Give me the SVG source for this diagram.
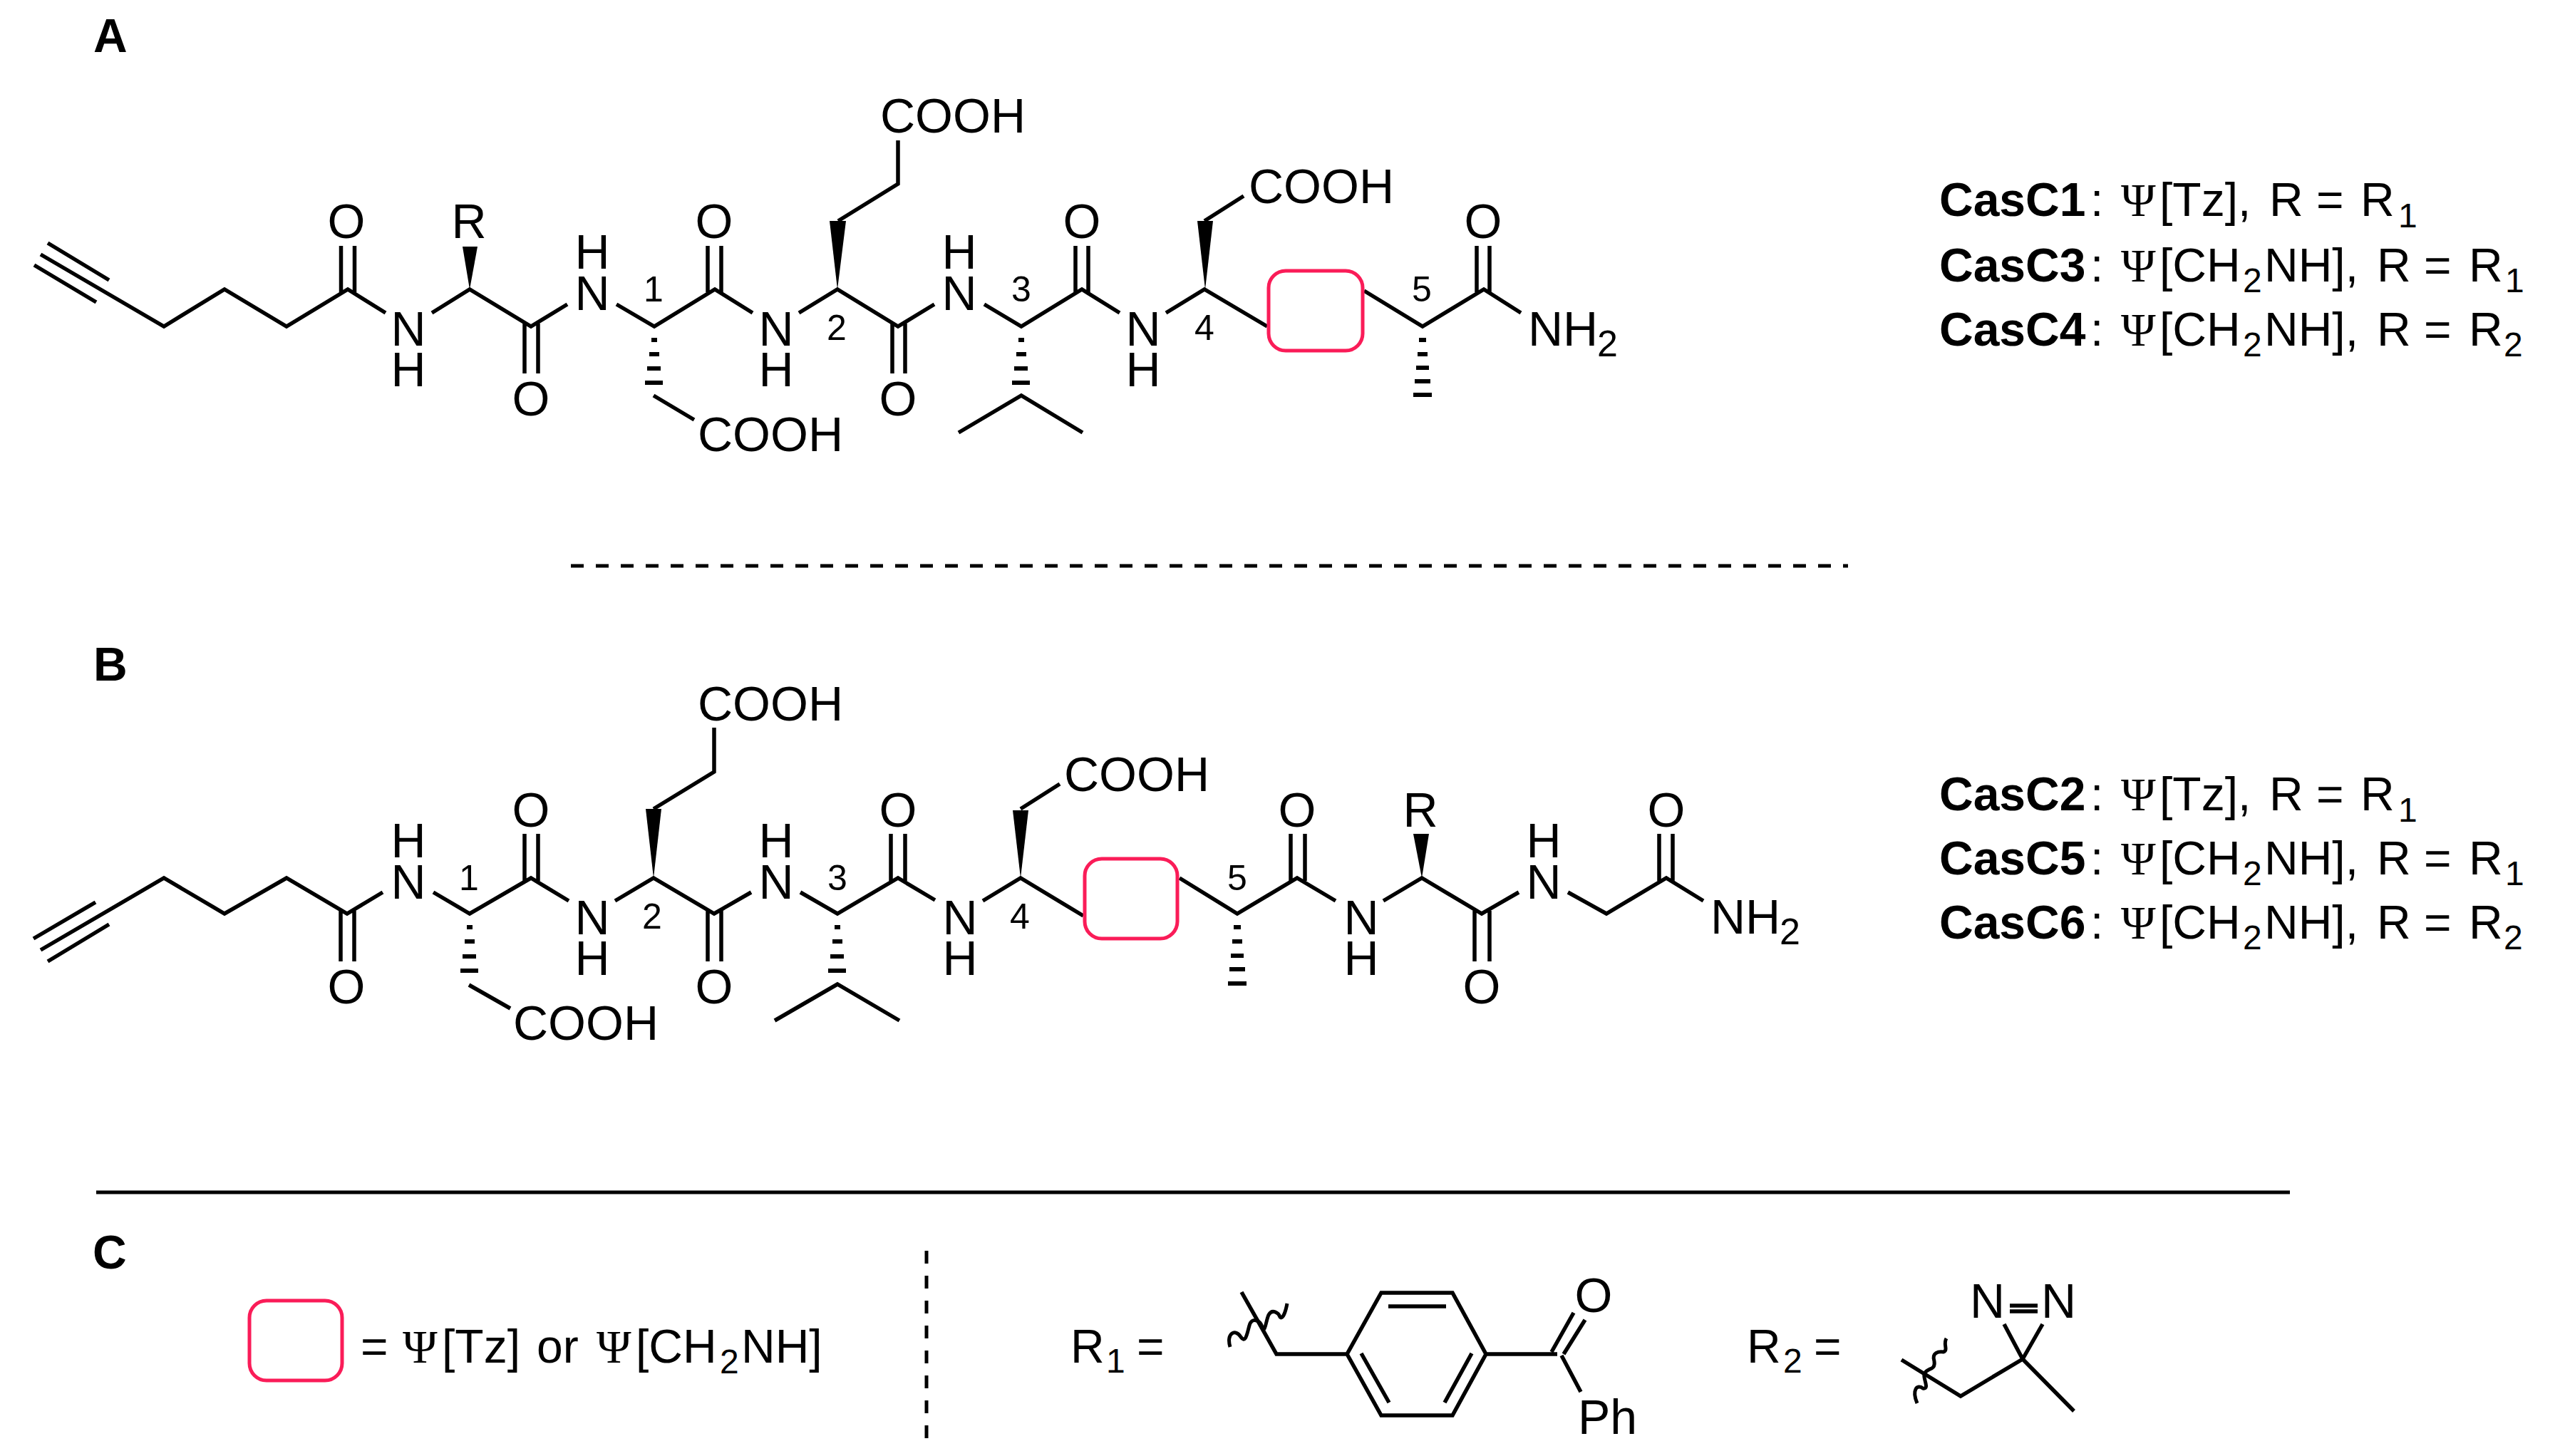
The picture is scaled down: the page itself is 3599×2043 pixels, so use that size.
<svg xmlns="http://www.w3.org/2000/svg" width="3599" height="2043" viewBox="0 0 3599 2043">
<style>
text{font-family:"Liberation Sans",Arial,sans-serif;fill:#000}
.a{font-size:68px;text-anchor:middle}
.s{font-size:68px}
.n{font-size:50px;text-anchor:middle}
.u{font-size:52px}
.p{font-size:66px;font-weight:bold}
.l{font-size:66px}
.bd{font-weight:bold}
.sub{font-size:48px}
.psi{font-family:"Liberation Serif","Times New Roman",serif}
.b{fill:none;stroke:#000;stroke-width:5.500}
.h{fill:none;stroke:#000;stroke-width:6}
.d{fill:none;stroke:#000;stroke-width:5}
.box{fill:none;stroke:#FA1C58;stroke-width:5}
</style>
<rect width="3599" height="2043" fill="#fff"/>
<g id="panel-labels">
<text class="p" x="131" y="73">A</text>
<text class="p" x="131" y="955">B</text>
<text class="p" x="130" y="1780">C</text>
</g>
<g id="dividers">
<path class="d" stroke-dasharray="18 17" d="M801 794H2593"/>
<path class="d" d="M135 1673H3213"/>
<path class="d" stroke-dasharray="18 17" d="M1300 1755V2020"/>
</g>
<g id="connectors">
<g id="bonds-a">
<path class="b" d="M67 341L153 393M48 372L135 424M57 357L230 458L315 406L402 458L488 406L541 439M478.500 345V410M497.500 345V410M606 439L659 406L745 458L796 427M736 454V524M755 454V524M865 427L918 458L1003 406L1056 439M993 345V410M1012 345V410M1121 439L1175 406L1260 458L1311 427M1252 454V524M1270 454V524M1381 427L1433 458L1518 406L1571 439M1509 345V410M1527 345V410M1636 439L1690 406L1778 458M1914 408L1996 458L2082 406L2134 439M2072 345V410M2090 345V410M1176 310L1260 258V197M1690 310L1745 275M917 555L974 589M1345 607L1433 555L1519 607"/>
<path d="M659 406L649 346H670Z"/>
<path d="M1175 406L1164 310H1187Z"/>
<path d="M1691 406L1680 310H1702Z"/>
<path class="h" d="M914 477h8M911 497h14M908 517h19M905 537h25M1429 477h8M1426 497h14M1423 517h19M1420 537h25M1991 477h10M1989 497h14M1987 516h18M1985 535h22M1983 554h26"/>
</g>
<g id="bonds-b">
<path class="b" d="M47 1317L134 1266M67 1349L153 1297M57 1333L230 1232L315 1282L402 1232L487 1282L537 1252M478 1278V1349M497 1278V1349M608 1252L659 1282L745 1232L798 1264M736 1170V1236M755 1170V1236M863 1264L917 1232L1002 1282L1054 1252M993 1278V1349M1012 1278V1349M1123 1252L1175 1282L1260 1232L1312 1263M1250 1170V1236M1270 1170V1236M1379 1264L1432 1232L1520 1285M1655 1232L1736 1282L1820 1232L1874 1264M1811 1170V1236M1831 1170V1236M1941 1264L1995 1232L2079 1282L2131 1252M2069 1278V1349M2090 1278V1349M2200 1252L2254 1282L2338 1232L2390 1264M2328 1170V1236M2347 1170V1236M917 1135L1002 1083V1021M1432 1135L1487 1100M658 1382L716 1415M1087 1432L1175 1381L1262 1432"/>
<path d="M917 1232L906 1135H928Z"/>
<path d="M1432 1232L1421 1137H1443Z"/>
<path d="M1995 1232L1983 1170H2005Z"/>
<path class="h" d="M655 1301h8M652 1321h14M649 1342h19M646 1362h25M1171 1301h8M1168 1321h14M1165 1342h19M1162 1362h25M1731 1301h10M1729 1321h14M1727 1341h18M1725 1360h22M1723 1380h26"/>
</g>
</g>
<g id="box-a"><rect class="box" x="1780" y="380" width="132" height="112" rx="24"/></g>
<g id="box-b"><rect class="box" x="1522" y="1205" width="130" height="112" rx="24"/></g>
<g id="labels-a">
<text class="a" x="486" y="334">O</text>
<text class="a" x="658" y="334">R</text>
<text class="a" x="1002" y="334">O</text>
<text class="a" x="1518" y="334">O</text>
<text class="a" x="2081" y="334">O</text>
<text class="a" x="745" y="583">O</text>
<text class="a" x="1260" y="583">O</text>
<text class="a"><tspan x="573" y="485">N</tspan><tspan x="573" y="542">H</tspan></text>
<text class="a"><tspan x="831" y="377">H</tspan><tspan x="831" y="435">N</tspan></text>
<text class="a"><tspan x="1089" y="485">N</tspan><tspan x="1089" y="542">H</tspan></text>
<text class="a"><tspan x="1346" y="377">H</tspan><tspan x="1346" y="435">N</tspan></text>
<text class="a"><tspan x="1604" y="485">N</tspan><tspan x="1604" y="542">H</tspan></text>
<text class="s" x="979" y="633">COOH</text>
<text class="s" x="1235" y="186">COOH</text>
<text class="s" x="1752" y="285">COOH</text>
<text class="s" x="2144" y="485">NH<tspan class="u" x="2241" y="500">2</tspan></text>
<text class="n" x="917" y="423">1</text>
<text class="n" x="1174" y="477">2</text>
<text class="n" x="1433" y="423">3</text>
<text class="n" x="1690" y="477">4</text>
<text class="n" x="1995" y="423">5</text>
</g>
<g id="labels-b">
<text class="a" x="745" y="1160">O</text>
<text class="a" x="1260" y="1160">O</text>
<text class="a" x="1820" y="1160">O</text>
<text class="a" x="1993" y="1160">R</text>
<text class="a" x="2338" y="1160">O</text>
<text class="a" x="486" y="1408">O</text>
<text class="a" x="1002" y="1408">O</text>
<text class="a" x="2079" y="1408">O</text>
<text class="a"><tspan x="573" y="1203">H</tspan><tspan x="573" y="1261">N</tspan></text>
<text class="a"><tspan x="831" y="1311">N</tspan><tspan x="831" y="1368">H</tspan></text>
<text class="a"><tspan x="1089" y="1203">H</tspan><tspan x="1089" y="1261">N</tspan></text>
<text class="a"><tspan x="1347" y="1311">N</tspan><tspan x="1347" y="1368">H</tspan></text>
<text class="a"><tspan x="1910" y="1311">N</tspan><tspan x="1910" y="1368">H</tspan></text>
<text class="a"><tspan x="2166" y="1203">H</tspan><tspan x="2166" y="1261">N</tspan></text>
<text class="s" x="720" y="1459">COOH</text>
<text class="s" x="979" y="1011">COOH</text>
<text class="s" x="1493" y="1110">COOH</text>
<text class="s" x="2400" y="1310">NH<tspan class="u" x="2497" y="1325">2</tspan></text>
<text class="n" x="658" y="1249">1</text>
<text class="n" x="915" y="1303">2</text>
<text class="n" x="1175" y="1249">3</text>
<text class="n" x="1431" y="1303">4</text>
<text class="n" x="1736" y="1249">5</text>
</g>
<g id="compounds-a">
<text class="l" y="303"><tspan class="bd" x="2721">CasC1</tspan><tspan x="2933">:</tspan><tspan class="psi" x="2976">Ψ</tspan><tspan x="3030">[Tz],</tspan><tspan x="3184">R =</tspan><tspan x="3312">R</tspan><tspan class="sub" x="3365" y="319">1</tspan></text>
<text class="l" y="395"><tspan class="bd" x="2721">CasC3</tspan><tspan x="2933">:</tspan><tspan class="psi" x="2976">Ψ</tspan><tspan x="3030">[CH</tspan><tspan class="sub" x="3147" y="410">2</tspan><tspan x="3177" y="395">NH],</tspan><tspan x="3335">R =</tspan><tspan x="3464">R</tspan><tspan class="sub" x="3515" y="410">1</tspan></text>
<text class="l" y="485"><tspan class="bd" x="2721">CasC4</tspan><tspan x="2933">:</tspan><tspan class="psi" x="2976">Ψ</tspan><tspan x="3030">[CH</tspan><tspan class="sub" x="3147" y="500">2</tspan><tspan x="3177" y="485">NH],</tspan><tspan x="3335">R =</tspan><tspan x="3464">R</tspan><tspan class="sub" x="3513" y="500">2</tspan></text>
</g>
<g id="compounds-b">
<text class="l" y="1137"><tspan class="bd" x="2721">CasC2</tspan><tspan x="2933">:</tspan><tspan class="psi" x="2976">Ψ</tspan><tspan x="3030">[Tz],</tspan><tspan x="3184">R =</tspan><tspan x="3312">R</tspan><tspan class="sub" x="3365" y="1153">1</tspan></text>
<text class="l" y="1227"><tspan class="bd" x="2721">CasC5</tspan><tspan x="2933">:</tspan><tspan class="psi" x="2976">Ψ</tspan><tspan x="3030">[CH</tspan><tspan class="sub" x="3147" y="1242">2</tspan><tspan x="3177" y="1227">NH],</tspan><tspan x="3335">R =</tspan><tspan x="3464">R</tspan><tspan class="sub" x="3515" y="1242">1</tspan></text>
<text class="l" y="1317"><tspan class="bd" x="2721">CasC6</tspan><tspan x="2933">:</tspan><tspan class="psi" x="2976">Ψ</tspan><tspan x="3030">[CH</tspan><tspan class="sub" x="3147" y="1332">2</tspan><tspan x="3177" y="1317">NH],</tspan><tspan x="3335">R =</tspan><tspan x="3464">R</tspan><tspan class="sub" x="3513" y="1332">2</tspan></text>
</g>
<g id="legend-box">
<rect class="box" x="350" y="1825" width="130" height="112" rx="24"/>
<text class="l" y="1912"><tspan x="506">=</tspan><tspan class="psi" x="565">Ψ</tspan><tspan x="620">[Tz]</tspan><tspan x="753">or</tspan><tspan class="psi" x="837">Ψ</tspan><tspan x="892">[CH</tspan><tspan class="sub" x="1010" y="1927">2</tspan><tspan x="1040" y="1912">NH]</tspan></text>
</g>
<g id="r1">
<text class="l" y="1912"><tspan x="1502">R</tspan><tspan class="sub" x="1552" y="1926">1</tspan><tspan x="1595" y="1912">=</tspan></text>
<path class="b" d="M1742 1813L1791 1900H1890L1938 1814H2038L2085 1900L2038 1986H1938L1890 1900M1948 1833H2029M1910 1899L1949 1968M2065 1899L2027 1968M2085 1900H2185M2177 1897L2208 1842M2194 1900L2224 1852M2191 1902L2218 1953"/>
<path class="d" d="M1726 1890C1720 1870 1734 1864 1741 1876C1748 1886 1750 1870 1753 1860C1756 1848 1768 1852 1771 1862C1775 1872 1776 1854 1780 1845C1785 1836 1794 1842 1796 1848C1800 1852 1804 1840 1806 1829"/>
<text class="a" x="2236" y="1841">O</text>
<text class="s" x="2214" y="2012">Ph</text>
</g>
<g id="r2">
<text class="l" y="1912"><tspan x="2451">R</tspan><tspan class="sub" x="2502" y="1926">2</tspan><tspan x="2545" y="1912">=</tspan></text>
<path class="b" d="M2668 1908L2751 1959L2838 1907L2812 1858M2838 1907L2866 1858M2838 1907L2910 1980M2820 1832H2859M2820 1840H2859"/>
<path class="d" d="M2690 1969C2682 1950 2690 1942 2698 1948C2708 1950 2698 1934 2700 1928C2704 1918 2716 1924 2714 1910C2710 1898 2720 1896 2727 1897C2734 1894 2726 1886 2731 1878"/>
<text class="s" x="2764" y="1849">N</text>
<text class="s" x="2864" y="1849">N</text>
</g>
</svg>
